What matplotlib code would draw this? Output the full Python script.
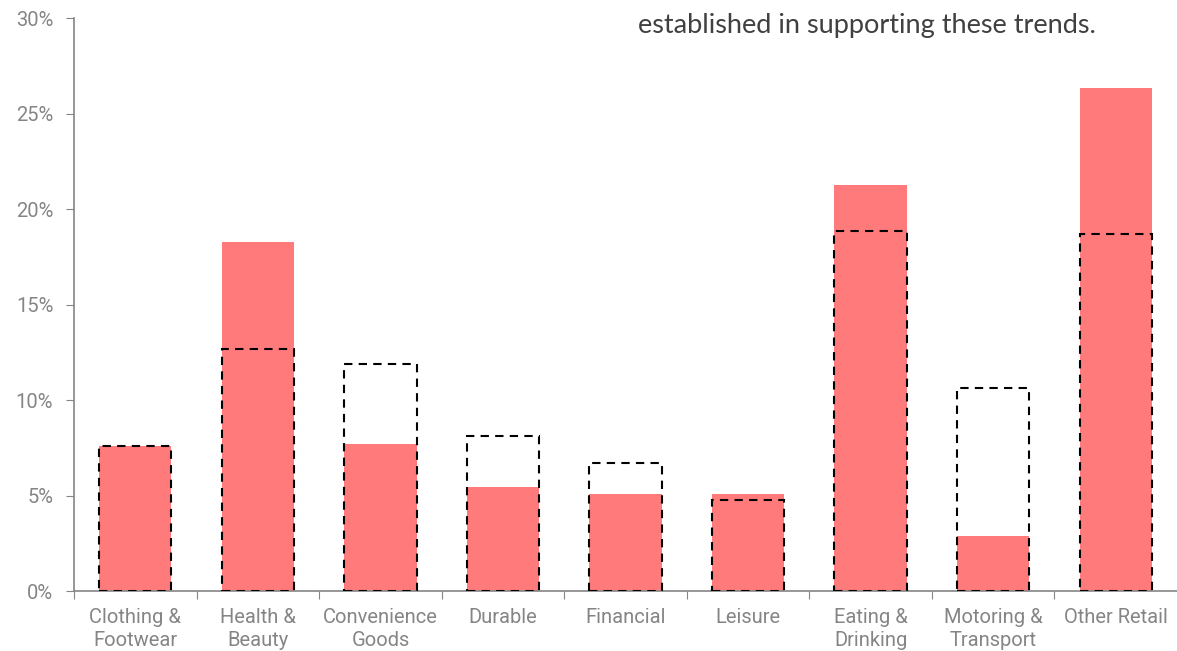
import matplotlib.pyplot as plt
from matplotlib.ticker import PercentFormatter

categories = ["Clothing &\nFootwear", "Health &\nBeauty", "Convenience\nGoods", "Durable",
              "Financial", "Leisure", "Eating &\nDrinking", "Motoring &\nTransport", "Other Retail"]
share = [7.6, 18.3, 7.7, 5.45, 5.1, 5.1, 21.25, 2.9, 26.35]
benchmark = [7.6, 12.7, 11.9, 8.1, 6.7, 4.75, 18.85, 10.65, 18.7]
y_ticks = [0, 5, 10, 15, 20, 25, 30]

grey = "#858585"

fig = plt.figure(figsize=(11.77, 6.51), dpi=100)
ax = fig.add_axes([0.0629, 0.092, 0.9371, 0.88])

x = range(len(categories))
ax.bar(x, share, width=0.59, color="#ff7b7b", zorder=2)
ax.bar(x, benchmark, width=0.59, fill=False, edgecolor="black",
       linestyle=(0, (4, 3)), linewidth=1.5, zorder=3)

ax.set_xlim(-0.5, 8.5)
ax.set_ylim(0, 30)
ax.set_yticks(y_ticks)
ax.yaxis.set_major_formatter(PercentFormatter(decimals=0))

ax.set_xticks([i - 0.5 for i in range(len(categories))])
ax.set_xticklabels([])
ax.set_xticks(list(x), minor=True)
ax.set_xticklabels(categories, minor=True, fontsize=14.5, color=grey, family="Roboto",
                   linespacing=1.3)
ax.tick_params(axis="x", which="minor", length=0, pad=12)
ax.tick_params(axis="x", which="major", length=6, color=grey, direction="out")
ax.tick_params(axis="y", length=6, color=grey, labelsize=14.5, labelcolor=grey, pad=9)
for lab in ax.get_yticklabels():
    lab.set_family("Roboto")

for side in ["top", "right"]:
    ax.spines[side].set_visible(False)
for side in ["left", "bottom"]:
    ax.spines[side].set_color(grey)
    ax.spines[side].set_linewidth(1.2)

fig.text(0.542, 0.949, "established in supporting these trends.", fontsize=19.5,
         family="Lato", color="#404040", va="baseline")

fig.savefig("out.png", dpi=100)
